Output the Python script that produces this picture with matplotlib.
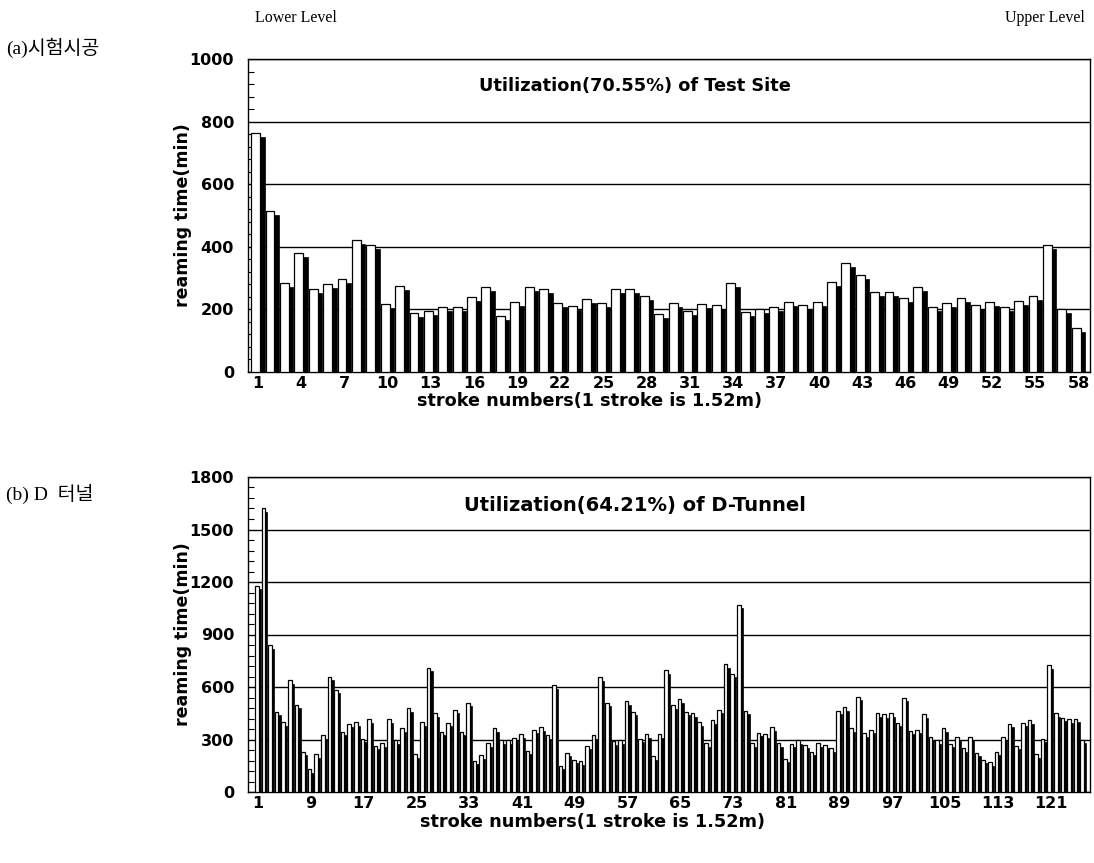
import matplotlib
matplotlib.use("Agg")
import numpy as np
import matplotlib.pyplot as plt
from matplotlib.ticker import AutoMinorLocator

# (a) test site, reaming time per stroke (min)
test_site = [763, 515, 284, 380, 265, 281, 297, 422, 406, 218,
             274, 188, 194, 207, 207, 240, 272, 178, 223, 272,
             265, 221, 211, 234, 219, 264, 265, 242, 184, 220,
             195, 216, 214, 284, 191, 201, 207, 223, 213, 223,
             288, 348, 310, 256, 256, 236, 272, 208, 219, 236,
             214, 224, 208, 226, 243, 406, 200, 140]

# (b) D-tunnel, reaming time per stroke (min)
d_tunnel = [1180, 1620, 840, 460, 400, 640, 500, 230, 130, 215,
            325, 660, 585, 345, 390, 400, 305, 415, 265, 280,
            415, 295, 365, 480, 215, 400, 710, 450, 345, 395,
            470, 345, 510, 180, 210, 280, 365, 295, 295, 310,
            330, 235, 355, 370, 325, 610, 150, 225, 185, 175,
            265, 325, 655, 510, 290, 295, 520, 460, 305, 330,
            205, 330, 695, 495, 530, 460, 450, 400, 280, 410,
            470, 730, 675, 1070, 465, 280, 340, 330, 370, 280,
            190, 275, 295, 270, 230, 278, 270, 250, 465, 485,
            365, 545, 335, 355, 450, 445, 450, 395, 540, 350,
            355, 445, 315, 295, 365, 275, 315, 250, 315, 225,
            185, 170, 230, 315, 390, 265, 395, 410, 215, 305,
            725, 450, 425, 415, 420, 300]

title_a = "Utilization(70.55%) of Test Site"
title_b = "Utilization(64.21%) of D-Tunnel"
ylabel = "reaming time(min)"
xlabel = "stroke numbers(1 stroke is 1.52m)"

bold = dict(family="DejaVu Sans", weight="bold")


def draw_panel(ax, values, ymax, ystep, xstep, xlim, face_w, side_w, drop,
               title, title_y, title_size):
    x = np.arange(1, len(values) + 1)
    v = np.asarray(values, dtype=float)
    # white front face
    ax.bar(x - side_w / 2, v, width=face_w, color="white", edgecolor="black",
           linewidth=0.9, zorder=3)
    # dark side for the pseudo 3-D look
    ax.bar(x + face_w / 2, v - drop, width=side_w,
           color="black", edgecolor="black", linewidth=0.5, zorder=3)

    ax.set_xlim(*xlim)
    ax.set_ylim(0, ymax)
    ax.set_yticks(np.arange(0, ymax + 1, ystep))
    ax.yaxis.set_minor_locator(AutoMinorLocator(5))
    ax.set_xticks(np.arange(1, len(values) + 1, xstep))
    ax.yaxis.grid(True, which="major", color="black", linewidth=1.0)
    ax.set_axisbelow(True)
    ax.tick_params(axis="y", which="major", length=0, pad=10, labelsize=11.5)
    ax.tick_params(axis="y", which="minor", direction="in", length=4, width=0.8)
    ax.tick_params(axis="x", length=0, pad=3, labelsize=11.5)
    for lab in ax.get_xticklabels() + ax.get_yticklabels():
        lab.set_fontweight("bold")
        lab.set_family("DejaVu Sans")
    for s in ax.spines.values():
        s.set_linewidth(1.0)
        s.set_color("black")

    ax.text(0.46, title_y, title, transform=ax.transAxes, ha="center", va="center",
            fontsize=title_size, **bold)
    ax.set_ylabel(ylabel, fontsize=12.5, **bold)
    ax.yaxis.set_label_coords(-0.066, 0.5)
    ax.set_xlabel(xlabel, fontsize=12.7, **bold)


fig = plt.figure(figsize=(10.94, 8.63), dpi=100)
W, H = 1094, 863

ax1 = fig.add_axes([248 / W, 1 - 372 / H, 842 / W, 313 / H])
draw_panel(ax1, test_site, 1000, 200, 3, (0.31, 58.8), 0.62, 0.32, 12,
           title_a, 0.914, 12.8)
ax1.xaxis.set_label_coords(0.405, -0.064)

ax2 = fig.add_axes([248 / W, 1 - 792 / H, 842 / W, 315 / H])
draw_panel(ax2, d_tunnel, 1800, 300, 8, (-0.5, 127.0), 0.55, 0.35, 20,
           title_b, 0.911, 14)
ax2.xaxis.set_label_coords(0.409, -0.067)

serif = ["Liberation Serif", "DejaVu Serif"]
fig.text(255 / W, 1 - 18 / H, "Lower Level", family=serif, fontsize=11.5,
         ha="left", va="center")
fig.text(1085 / W, 1 - 18 / H, "Upper Level", family=serif, fontsize=11.5,
         ha="right", va="center")
kr = ["Liberation Serif", "Noto Sans CJK KR"]
fig.text(6 / W, 1 - 48 / H, "(a)시험시공", family=kr, fontsize=14,
         ha="left", va="center")
fig.text(6 / W, 1 - 494 / H, "(b) D  터널", family=kr, fontsize=14,
         ha="left", va="center")

fig.savefig("out.png", dpi=100)
